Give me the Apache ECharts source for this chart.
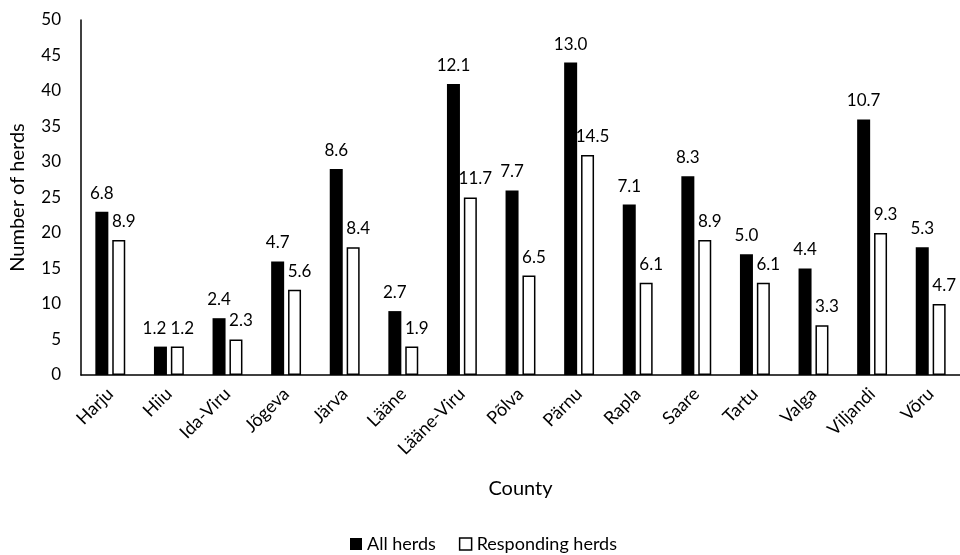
<!DOCTYPE html>
<html>
<head>
<meta charset="utf-8">
<script src="https://cdn.jsdelivr.net/npm/echarts@6/dist/echarts.min.js"></script>
<style>
  html, body { margin: 0; padding: 0; background: #fff; }
  #chart { width: 960px; height: 555px; }
</style>
</head>
<body>
<div id="chart"></div>
<script>
// Counties of Estonia
const counties = ['Harju', 'Hiiu', 'Ida-Viru', 'Jõgeva', 'Järva', 'Lääne', 'Lääne-Viru', 'Põlva',
  'Pärnu', 'Rapla', 'Saare', 'Tartu', 'Valga', 'Viljandi', 'Võru'];

// Number of herds per county
const allHerds = [23, 4, 8, 16, 29, 9, 41, 26, 44, 24, 28, 17, 15, 36, 18];
const respondingHerds = [19, 4, 5, 12, 18, 4, 25, 14, 31, 13, 19, 13, 7, 20, 10];

// Percentage shares printed above the bars
const allHerdsPct = ['6.8', '1.2', '2.4', '4.7', '8.6', '2.7', '12.1', '7.7', '13.0', '7.1', '8.3', '5.0', '4.4', '10.7', '5.3'];
const respondingPct = ['8.9', '1.2', '2.3', '5.6', '8.4', '1.9', '11.7', '6.5', '14.5', '6.1', '8.9', '6.1', '3.3', '9.3', '4.7'];

const yTicks = { min: 0, max: 50, interval: 5 };

const FONT = 'Lato';
const chart = echarts.init(document.getElementById('chart'), null, { renderer: 'canvas' });

const labelStyle = {
  show: true,
  position: 'top',
  distance: 10,
  color: '#000',
  fontFamily: FONT,
  fontSize: 17
};

// the Hiiu pair sits close together, so nudge its left label aside
const allHerdsData = allHerds.map((v, i) => i === 1 ? { value: v, label: { offset: [-6, 0] } } : v);

chart.setOption({
  animation: false,
  textStyle: { fontFamily: FONT, color: '#000' },
  grid: { left: 79, right: 0, top: 20, bottom: 180, containLabel: false },
  legend: {
    top: 535,
    left: 350,
    itemWidth: 12,
    itemHeight: 12,
    itemGap: 23,
    padding: 0,
    textStyle: { fontFamily: FONT, fontSize: 18, color: '#000' },
    data: [
      { name: 'All herds', icon: 'rect', itemStyle: { color: '#000' } },
      { name: 'Responding herds', icon: 'rect', itemStyle: { color: '#fff', borderColor: '#000', borderWidth: 1.5 } }
    ]
  },
  xAxis: {
    type: 'category',
    data: counties,
    name: 'County',
    nameLocation: 'middle',
    nameGap: 104,
    nameTextStyle: { fontFamily: FONT, fontSize: 20, color: '#000' },
    axisLine: { lineStyle: { color: '#000', width: 1.5 } },
    axisTick: { show: false },
    axisLabel: { rotate: 45, margin: 16, fontFamily: FONT, fontSize: 18, color: '#000', interval: 0 }
  },
  yAxis: {
    type: 'value',
    min: yTicks.min,
    max: yTicks.max,
    interval: yTicks.interval,
    name: 'Number of herds',
    nameLocation: 'middle',
    nameRotate: 90,
    nameGap: 53,
    nameTextStyle: { fontFamily: FONT, fontSize: 20, color: '#000' },
    axisLine: { show: true, lineStyle: { color: '#000', width: 1.5 } },
    axisTick: { show: false },
    splitLine: { show: false },
    axisLabel: { margin: 20, fontFamily: FONT, fontSize: 17, color: '#000' }
  },
  series: [
    {
      name: 'All herds',
      type: 'bar',
      data: allHerdsData,
      barWidth: 13,
      barGap: '30%',
      itemStyle: { color: '#000' },
      label: Object.assign({}, labelStyle, {
        formatter: p => allHerdsPct[p.dataIndex]
      })
    },
    {
      name: 'Responding herds',
      type: 'bar',
      data: respondingHerds,
      barWidth: 13,
      itemStyle: { color: '#fff', borderColor: '#000', borderWidth: 1.5 },
      label: Object.assign({}, labelStyle, {
        offset: [5, 0],
        formatter: p => respondingPct[p.dataIndex]
      })
    }
  ]
});
</script>
</body>
</html>
